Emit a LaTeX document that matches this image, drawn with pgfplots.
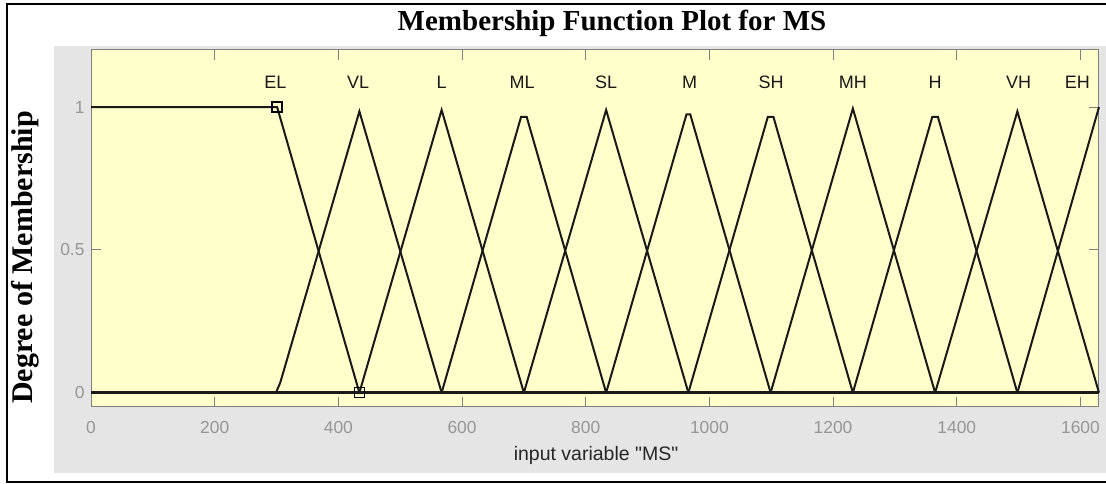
\documentclass[border=0pt]{standalone}
\usepackage{pgfplots}
\pgfplotsset{compat=1.18}
\usepackage{fontspec}
\setmainfont{Liberation Serif}
\newfontfamily\arial{Liberation Sans}
\definecolor{bgyellow}{RGB}{255,255,204}
\definecolor{panelgray}{RGB}{229,229,229}
\definecolor{axgray}{RGB}{128,128,128}
\definecolor{tickgray}{RGB}{150,150,150}
\begin{document}
\begin{tikzpicture}
\useasboundingbox (0pt,0pt) rectangle (1106pt,484pt);
\fill[white] (0pt,0pt) rectangle (1106pt,484pt);
\fill[panelgray] (54pt,11pt) rectangle (1106pt,438pt);
\draw[line width=2pt] (1106pt,480pt) -- (7pt,480pt) -- (7pt,2pt) -- (1106pt,2pt);
\begin{axis}[
  at={(91pt,77pt)}, anchor=south west,
  scale only axis, width=1008pt, height=357pt,
  xmin=0, xmax=1630, ymin=-0.05, ymax=1.2,
  xtick={0,200,...,1600}, ytick={0,0.5,1},
  yticklabels={0,0.5,1},
  tick align=inside, major tick length=10pt,
  axis line style={draw=axgray, line width=1pt},
  tick style={draw=axgray, line width=1pt},
  axis background/.style={fill=bgyellow},
  ticklabel style={font=\arial\fontsize{17.4}{20}\selectfont, text=tickgray},
  /pgf/number format/assume math mode=true,
  /pgf/number format/1000 sep={},
  xticklabel style={yshift=-11pt},
  yticklabel style={xshift=-3pt},
  scaled x ticks=false,
  clip=false,
]
\addplot[black!90, line width=2.8pt] coordinates {(0,0) (1630,0)};
% EL
\addplot[black!90, line width=2pt] coordinates {(0,1) (301,1) (434,0)};
% VL
\addplot[black!90, line width=2pt] coordinates {(299,0) (306,0.035) (434,0.985) (567,0)};
% L
\addplot[black!90, line width=2pt] coordinates {(434,0) (567,0.99) (700,0)};
% ML
\addplot[black!90, line width=2pt] coordinates {(567,0) (695.5,0.966) (704.5,0.966) (833,0)};
% SL
\addplot[black!90, line width=2pt] coordinates {(700,0) (833,0.99) (966,0)};
% M
\addplot[black!90, line width=2pt] coordinates {(833,0) (963,0.975) (969,0.975) (1099,0)};
% SH
\addplot[black!90, line width=2pt] coordinates {(966,0) (1094.5,0.966) (1103.5,0.966) (1232,0)};
% MH
\addplot[black!90, line width=2pt] coordinates {(1099,0) (1232,0.995) (1365,0)};
% H
\addplot[black!90, line width=2pt] coordinates {(1232,0) (1360.5,0.966) (1369.5,0.966) (1498,0)};
% VH
\addplot[black!90, line width=2pt] coordinates {(1365,0) (1498,0.985) (1630,0)};
% EH
\addplot[black!90, line width=2pt] coordinates {(1498,0) (1630,1)};
% selected markers
\addplot[only marks, mark=square, mark size=5pt, mark options={draw=black, line width=1.3pt, fill=none}] coordinates {(301,1) (434,0)};
\begin{scope}[every node/.style={font=\arial\fontsize{18}{20}\selectfont, text=black!90}]
\node at (axis cs:298,1.087) {EL};
\node at (axis cs:432,1.087) {VL};
\node at (axis cs:567,1.087) {L};
\node at (axis cs:697,1.087) {ML};
\node at (axis cs:833,1.087) {SL};
\node at (axis cs:968,1.087) {M};
\node at (axis cs:1100,1.087) {SH};
\node at (axis cs:1232,1.087) {MH};
\node at (axis cs:1365,1.087) {H};
\node at (axis cs:1500,1.087) {VH};
\node at (axis cs:1595,1.087) {EH};
\end{scope}
\end{axis}
\node[font=\bfseries\fontsize{29}{32}\selectfont] at (612pt,461pt) {Membership Function Plot for MS};
\node[font=\bfseries\fontsize{30}{32}\selectfont, rotate=90] at (25pt,226.5pt) {Degree of Membership};
\node[font=\arial\fontsize{19.5}{22}\selectfont, text=black!85] at (596pt,29pt) {input variable "MS"};
\end{tikzpicture}
\end{document}
